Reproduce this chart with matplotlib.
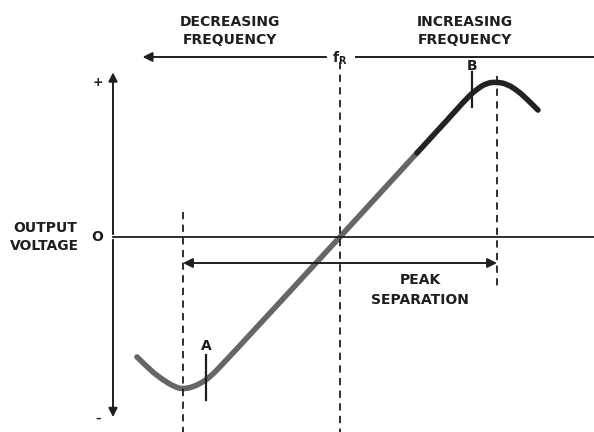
import matplotlib
matplotlib.use('Agg')
from matplotlib import pyplot as plt
from matplotlib.path import Path
from matplotlib.patches import PathPatch

# discriminator S-curve, frequency relative to f_R (peak separation = 1), output voltage (peak = 1)
freq_low = [-1.293, -1.210, -1.127, -1.051, -1.0, -0.936, -0.873, -0.828, -0.745, 0.0, 0.490]
volt_low = [-0.774, -0.858, -0.923, -0.968, -0.981, -0.968, -0.935, -0.903, -0.819, 0.0, 0.542]
freq_high = [0.490, 0.701, 0.809, 0.873, 0.936, 1.0, 1.064, 1.134, 1.197, 1.261]
volt_high = [0.542, 0.774, 0.897, 0.955, 0.994, 1.0, 0.987, 0.942, 0.884, 0.819]

marker_a = -0.854
marker_b = 0.84
peak_low = -1.0
peak_high = 1.0


def smooth_path(xs, ys):
    # quadratic bezier through midpoints, the listed points act as control points
    pts = list(zip(xs, ys))
    verts = [pts[0]]
    codes = [Path.MOVETO]
    for i in range(1, len(pts) - 1):
        mid = ((pts[i][0] + pts[i + 1][0]) / 2, (pts[i][1] + pts[i + 1][1]) / 2)
        if i == len(pts) - 2:
            mid = pts[-1]
        verts += [pts[i], mid]
        codes += [Path.CURVE3, Path.CURVE3]
    return Path(verts, codes)


fig = plt.figure(figsize=(5.94, 4.32), dpi=100)
ax = fig.add_axes([0, 0, 1, 1])
ax.set_xlim(-340 / 157, 254 / 157)
ax.set_ylim(-195 / 155, 237 / 155)
ax.axis('off')

ink = '#1e1e1e'
fam = 'DejaVu Sans'
fs = 10

# voltage axis and zero line
y_axis_x = (113 - 340) / 157
ax.annotate('', xy=(y_axis_x, 1.08), xytext=(y_axis_x, 0),
            arrowprops=dict(arrowstyle='-|>', color=ink, lw=1.4, mutation_scale=13))
ax.annotate('', xy=(y_axis_x, -1.18), xytext=(y_axis_x, 0),
            arrowprops=dict(arrowstyle='-|>', color=ink, lw=1.4, mutation_scale=13))
ax.plot([y_axis_x, 1.62], [0, 0], color=ink, lw=1.3)

ax.text(y_axis_x - 0.095, 1.0, '+', ha='center', va='center', fontsize=9, fontweight='bold', color=ink, family=fam)
ax.text(y_axis_x - 0.095, -1.17, '\u2013', ha='center', va='center', fontsize=8, fontweight='bold', color=ink, family=fam)
ax.text(y_axis_x - 0.10, 0.0, 'O', ha='center', va='center', fontsize=fs, fontweight='bold', color=ink, family=fam)
ax.text(-1.88, 0.0, 'OUTPUT\nVOLTAGE', ha='center', va='center', fontsize=fs, fontweight='bold',
        color=ink, family=fam, linespacing=1.4)

# frequency direction arrow
top_y = (237 - 57) / 155
ax.annotate('', xy=(-1.275, top_y), xytext=(-0.07, top_y),
            arrowprops=dict(arrowstyle='-|>', color=ink, lw=1.4, mutation_scale=14))
ax.plot([0.10, 1.62], [top_y, top_y], color=ink, lw=1.4)
ax.text(0.0, top_y - 0.01, r'f$_\mathregular{R}$', ha='center', va='center', fontsize=fs,
        fontweight='bold', color=ink, family=fam)
ax.text(-0.70, (237 - 31) / 155, 'DECREASING\nFREQUENCY', ha='center', va='center', fontsize=fs,
        fontweight='bold', color=ink, family=fam, linespacing=1.4)
ax.text(0.797, (237 - 31) / 155, 'INCREASING\nFREQUENCY', ha='center', va='center', fontsize=fs,
        fontweight='bold', color=ink, family=fam, linespacing=1.4)

# dashed verticals
ax.plot([0, 0], [(237 - 62) / 155, -1.3], color=ink, lw=1.3, ls=(0, (4, 3)))
ax.plot([peak_low, peak_low], [(237 - 212) / 155, -1.3], color=ink, lw=1.3, ls=(0, (4, 3)))
ax.plot([peak_high, peak_high], [(237 - 76) / 155, -(290 - 237) / 155], color=ink, lw=1.3, ls=(0, (4, 3)))

# peak separation
sep_y = -(263 - 237) / 155
ax.annotate('', xy=(peak_low, sep_y), xytext=(peak_high, sep_y),
            arrowprops=dict(arrowstyle='<|-|>', color=ink, lw=1.4, mutation_scale=14, shrinkA=0, shrinkB=0))
ax.text(0.51, -(290 - 237) / 155, 'PEAK\nSEPARATION', ha='center', va='center', fontsize=fs,
        fontweight='bold', color=ink, family=fam, linespacing=1.5)

# S-curve
ax.add_patch(PathPatch(smooth_path(freq_low, volt_low), fill=False, edgecolor='#666666', lw=4,
                       capstyle='round', joinstyle='round'))
ax.add_patch(PathPatch(smooth_path(freq_high, volt_high), fill=False, edgecolor='#222222', lw=4,
                       capstyle='round', joinstyle='round'))

# markers A and B
ax.plot([marker_a, marker_a], [-(355 - 237) / 155, -(400 - 237) / 155], color=ink, lw=1.6)
ax.text(marker_a, -(346 - 237) / 155, 'A', ha='center', va='center', fontsize=fs, fontweight='bold', color=ink, family=fam)
ax.plot([marker_b, marker_b], [(237 - 72) / 155, (237 - 107) / 155], color=ink, lw=1.6)
ax.text(marker_b, (237 - 66) / 155, 'B', ha='center', va='center', fontsize=fs, fontweight='bold', color=ink, family=fam)

fig.savefig('out.png', dpi=100, facecolor='white')
